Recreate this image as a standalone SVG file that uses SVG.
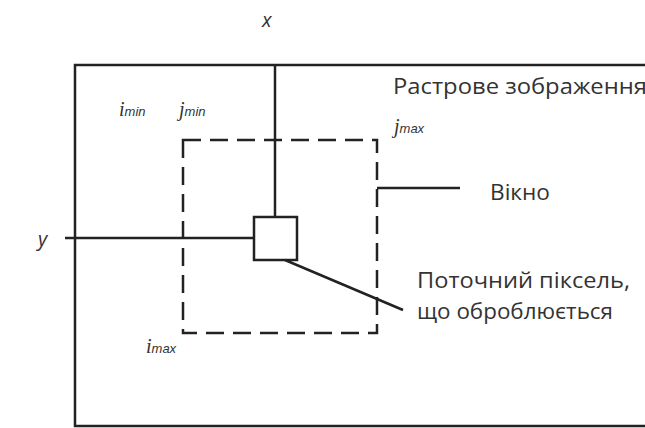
<svg xmlns="http://www.w3.org/2000/svg" width="645" height="428" viewBox="0 0 645 428">
<style>
.ln{stroke:#222;stroke-width:2.5;fill:none}
.dash{stroke:#222;stroke-width:2.5;fill:none;stroke-dasharray:18,9}
.lbl{font-family:"Open Sans","Noto Sans",sans-serif;font-size:21px;fill:#333}
.it{font-family:"Liberation Serif",serif;font-style:italic;fill:#333}
.ax{font-family:"Open Sans","Noto Sans",sans-serif;font-style:italic;font-size:20px;fill:#333}
.sub{font-family:"Liberation Sans",sans-serif;font-style:italic;font-size:13px;fill:#333}
</style>
<rect width="645" height="428" fill="#fff"/>
<g id="image">
<path class="ln" d="M648,65 H75 V426 H648"/>
<text class="lbl" x="393" y="94" textLength="254" lengthAdjust="spacingAndGlyphs">Растрове зображення</text>
</g>
<g id="window">
<rect class="dash" x="183" y="140" width="194" height="193"/>
<text class="lbl" x="490" y="200" textLength="60" lengthAdjust="spacingAndGlyphs">Вікно</text>
</g>
<g id="pixel">
<rect class="ln" x="254" y="217" width="43" height="43"/>
<text class="lbl" x="417" y="288" textLength="213" lengthAdjust="spacingAndGlyphs">Поточний піксель,</text>
<text class="lbl" x="417" y="319" textLength="196" lengthAdjust="spacingAndGlyphs">що оброблюється</text>
</g>
<g id="labels">
<text class="ax" x="262" y="27">x</text>
<text class="ax" x="38" y="246">y</text>
<text class="it" x="119" y="116" font-size="20">i<tspan class="sub">min</tspan></text>
<text class="it" x="179" y="116" font-size="20">j<tspan class="sub">min</tspan></text>
<text class="it" x="394" y="133" font-size="20">j<tspan class="sub">max</tspan></text>
<text class="it" x="146" y="353" font-size="20">i<tspan class="sub">max</tspan></text>
</g>
<g id="connectors">
<line class="ln" x1="275" y1="65" x2="275" y2="217"/>
<line class="ln" x1="65" y1="238" x2="254" y2="238"/>
<line class="ln" x1="377" y1="188" x2="460" y2="188"/>
<line class="ln" x1="285" y1="260" x2="403" y2="310"/>
</g>
</svg>
